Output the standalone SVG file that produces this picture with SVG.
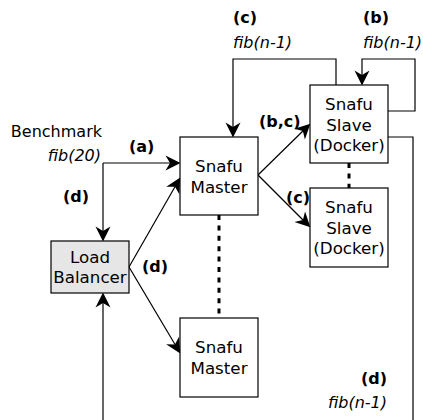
<svg xmlns="http://www.w3.org/2000/svg" xmlns:xlink="http://www.w3.org/1999/xlink" width="423" height="420" viewBox="0 0 423 420">
<style>
.box{fill:#fff;stroke:#000;stroke-width:1.2}
.lb{fill:#e6e6e6;stroke:#000;stroke-width:1.2}
.t{font-family:"DejaVu Sans",sans-serif;font-size:16.7px;fill:#000;text-anchor:middle}
.lbl{font-family:"DejaVu Sans",sans-serif;font-size:16px;fill:#000}
.b{font-weight:bold}
.i{font-style:italic}
.ln{fill:none;stroke:#000;stroke-width:1.2}
.dash{fill:none;stroke:#000;stroke-width:3;stroke-dasharray:5 5.4}
.hd{fill:#000;stroke:none}
</style>
<defs>
<path id="head" d="M0.5,0 L-14.5,-7.5 L-10,0 L-14.5,7.5 Z"/>
</defs>
<rect width="423" height="420" fill="#fff"/>
<g id="connectors">
<line class="ln" x1="103" y1="163" x2="176" y2="163"/>
<line class="ln" x1="103" y1="163" x2="103" y2="237"/>
<line class="ln" x1="129" y1="267" x2="178" y2="181.5"/>
<line class="ln" x1="129" y1="267" x2="178" y2="349.5"/>
<line class="ln" x1="258" y1="175" x2="307" y2="127"/>
<line class="ln" x1="258" y1="175" x2="307" y2="224"/>
<polyline class="ln" points="336,85 336,59 233,59 233,133"/>
<polyline class="ln" points="388,111 415,111 415,59 362,59 362,81"/>
<polyline class="ln" points="388,137 413,137 413,420"/>
<line class="ln" x1="103" y1="420" x2="103" y2="297"/>
<use class="hd" xlink:href="#head" href="#head" transform="translate(180,163)"/>
<use class="hd" xlink:href="#head" href="#head" transform="translate(103,241) rotate(90)"/>
<use class="hd" xlink:href="#head" href="#head" transform="translate(180,178) rotate(-60.2)"/>
<use class="hd" xlink:href="#head" href="#head" transform="translate(180,353) rotate(59.3)"/>
<use class="hd" xlink:href="#head" href="#head" transform="translate(310,124) rotate(-44.4)"/>
<use class="hd" xlink:href="#head" href="#head" transform="translate(310,227) rotate(45)"/>
<use class="hd" xlink:href="#head" href="#head" transform="translate(233,137) rotate(90)"/>
<use class="hd" xlink:href="#head" href="#head" transform="translate(362,85) rotate(90)"/>
<use class="hd" xlink:href="#head" href="#head" transform="translate(103,293) rotate(-90)"/>
<line class="dash" x1="219" y1="215" x2="219" y2="318"/>
<line class="dash" x1="349" y1="163" x2="349" y2="188"/>
</g>
<g id="master1">
<rect class="box" x="180" y="137" width="78" height="78"/>
<text class="t" x="219" y="172">Snafu</text>
<text class="t" x="219" y="193">Master</text>
</g>
<g id="master2">
<rect class="box" x="180" y="318" width="78" height="79"/>
<text class="t" x="219" y="353">Snafu</text>
<text class="t" x="219" y="374">Master</text>
</g>
<g id="slave1">
<rect class="box" x="310" y="85" width="78" height="78"/>
<text class="t" x="349" y="110">Snafu</text>
<text class="t" x="349" y="131">Slave</text>
<text class="t" x="349" y="151">(Docker)</text>
</g>
<g id="slave2">
<rect class="box" x="310" y="188" width="78" height="79"/>
<text class="t" x="349" y="213">Snafu</text>
<text class="t" x="349" y="234">Slave</text>
<text class="t" x="349" y="254">(Docker)</text>
</g>
<g id="loadbalancer">
<rect class="lb" x="51" y="241" width="78" height="52"/>
<text class="t" x="90" y="263">Load</text>
<text class="t" x="90" y="283">Balancer</text>
</g>
<g id="labels">
<text class="lbl" x="102" y="137" text-anchor="end" font-size="17">Benchmark</text>
<text class="lbl i" x="101" y="161" text-anchor="end">fib(20)</text>
<text class="lbl b" x="129" y="152">(a)</text>
<text class="lbl b" x="89" y="202" text-anchor="end">(d)</text>
<text class="lbl b" x="142" y="272">(d)</text>
<text class="lbl b" x="233" y="23">(c)</text>
<text class="lbl i" x="233" y="48">fib(n-1)</text>
<text class="lbl b" x="363" y="23">(b)</text>
<text class="lbl i" x="363" y="48">fib(n-1)</text>
<text class="lbl b" x="259" y="127">(b,c)</text>
<text class="lbl b" x="286" y="203">(c)</text>
<text class="lbl b" x="387" y="384" text-anchor="end">(d)</text>
<text class="lbl i" x="387" y="408" text-anchor="end">fib(n-1)</text>
</g>
</svg>
